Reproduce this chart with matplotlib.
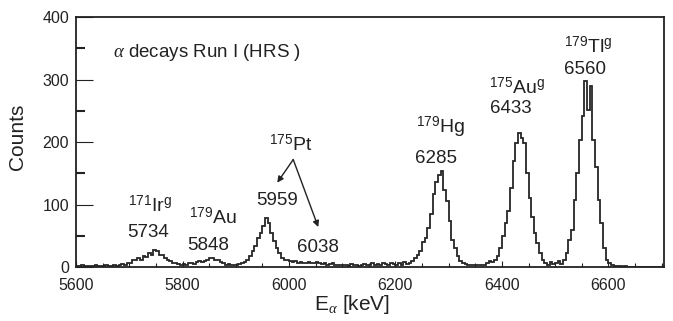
import numpy as np
import matplotlib
matplotlib.use("Agg")
import matplotlib.pyplot as plt

plt.rcParams['font.family'] = ['Liberation Sans', 'DejaVu Sans']
plt.rcParams['mathtext.fontset'] = 'custom'
plt.rcParams['mathtext.rm'] = 'Liberation Sans'
plt.rcParams['mathtext.it'] = 'Liberation Serif:italic'
plt.rcParams['mathtext.bf'] = 'Liberation Sans:bold'

# ---- data: alpha-energy histogram, 5 keV bins starting at 5600 keV ----
bin_start = 5600
bin_width = 5
counts_5600 = [2, 1, 3, 2, 1, 2, 1, 3, 2, 1, 2, 3, 1, 2, 4, 2, 3, 5, 4, 7]
counts_5700 = [6, 11, 12, 14, 12, 18, 16, 22, 20, 28, 25, 20, 19, 15, 12, 9, 7, 6, 5, 4]
counts_5800 = [5, 4, 6, 7, 5, 8, 9, 8, 10, 12, 15, 14, 11, 12, 8, 6, 4, 5, 3, 4]
counts_5900 = [4, 5, 6, 8, 11, 18, 25, 33, 46, 54, 65, 78, 70, 54, 41, 30, 22, 14, 12, 11]
counts_6000 = [9, 8, 10, 7, 8, 6, 7, 8, 6, 7, 8, 6, 5, 7, 4, 5, 6, 3, 4, 3]
counts_6100 = [3, 4, 2, 5, 3, 4, 2, 3, 5, 4, 3, 6, 4, 5, 3, 6, 5, 4, 7, 5]
counts_6200 = [4, 6, 3, 8, 5, 7, 9, 14, 20, 26, 40, 47, 63, 85, 117, 136, 147, 153, 124, 105]
counts_6300 = [73, 44, 30, 17, 9, 6, 5, 4, 4, 3, 4, 3, 4, 3, 6, 10, 8, 12, 18, 30]
counts_6400 = [50, 71, 89, 126, 169, 199, 215, 206, 199, 150, 110, 80, 55, 38, 22, 12, 7, 4, 8, 5]
counts_6500 = [6, 10, 5, 11, 22, 43, 59, 108, 150, 204, 241, 298, 252, 289, 204, 160, 108, 70, 30, 12]
counts_6600 = [6, 3, 2, 2, 1, 0, 1, 0, 0, 0, 0, 0, 0, 0, 0, 0, 0, 0, 0, 0, 0]

counts = (counts_5600 + counts_5700 + counts_5800 + counts_5900 + counts_6000 +
          counts_6100 + counts_6200 + counts_6300 + counts_6400 + counts_6500 + counts_6600)
edges = bin_start + bin_width * np.arange(len(counts) + 1)

# peak labels
iso_labels = [r'$^{\mathrm{171}}$Ir$^{\mathrm{g}}$', r'$^{\mathrm{179}}$Au',
              r'$^{\mathrm{175}}$Pt', r'$^{\mathrm{179}}$Hg',
              r'$^{\mathrm{175}}$Au$^{\mathrm{g}}$', r'$^{\mathrm{179}}$Tl$^{\mathrm{g}}$']
iso_x = [5739, 5858, 6004, 6284, 6429, 6562]
iso_y = [98, 79, 196, 223, 288, 353]
energy_labels = ['5734', '5848', '5959', '6038', '6285', '6433', '6560']
energy_x = [5736, 5848, 5978, 6055, 6277, 6416, 6557]
energy_y = [56, 35, 107, 32, 173, 254, 316]

xticks = [5600, 5800, 6000, 6200, 6400, 6600]
yticks = [0, 100, 200, 300, 400]

fig = plt.figure(figsize=(6.73, 3.21), dpi=100)
ax = fig.add_axes([0.113, 0.168, 0.874, 0.779])

ax.stairs(counts, edges, color='#262626', lw=1.3)

ax.set_xlim(5600, 6705)
ax.set_ylim(0, 400)
ax.set_xticks(xticks)
ax.set_yticks(yticks)
ax.set_xticks(np.arange(5600, 6705, 50), minor=True)
ax.set_yticks([50, 150, 250, 350], minor=True)

ax.tick_params(axis='x', which='major', direction='in', length=4, width=0.8,
               labelsize=11.5, pad=8, colors='#222222')
ax.tick_params(axis='x', which='minor', direction='in', length=3, width=0.8, colors='#222222')
ax.tick_params(axis='y', which='major', direction='in', length=12, width=0.8,
               labelsize=11.5, pad=5, colors='#222222')
ax.tick_params(axis='y', which='minor', direction='in', length=6.5, width=1.5, colors='#222222')

for s in ax.spines.values():
    s.set_linewidth(1.3)
    s.set_color('#222222')

ax.set_ylabel('Counts', fontsize=15, color='#222222')
ax.yaxis.set_label_coords(-0.083, 0.52)
ax.set_xlabel(r'E$_{\alpha}$ [keV]', fontsize=15, color='#222222')
ax.xaxis.set_label_coords(0.47, -0.105)

ax.text(5670, 343, r'$\alpha$ decays Run I (HRS )', fontsize=13.5, color='#222222',
        ha='left', va='center')

for t, x, y in zip(iso_labels, iso_x, iso_y):
    ax.text(x, y, t, fontsize=14, color='#222222', ha='center', va='center')
for t, x, y in zip(energy_labels, energy_x, energy_y):
    ax.text(x, y, t, fontsize=13.5, color='#222222', ha='center', va='center')

arrow_props = dict(arrowstyle='-|>', lw=1.0, color='#222222', mutation_scale=9,
                   shrinkA=0, shrinkB=0)
ax.annotate('', xy=(5978, 135), xytext=(6008, 172), arrowprops=arrow_props)
ax.annotate('', xy=(6055, 64), xytext=(6008, 172), arrowprops=arrow_props)

fig.savefig('out.png', dpi=100)
